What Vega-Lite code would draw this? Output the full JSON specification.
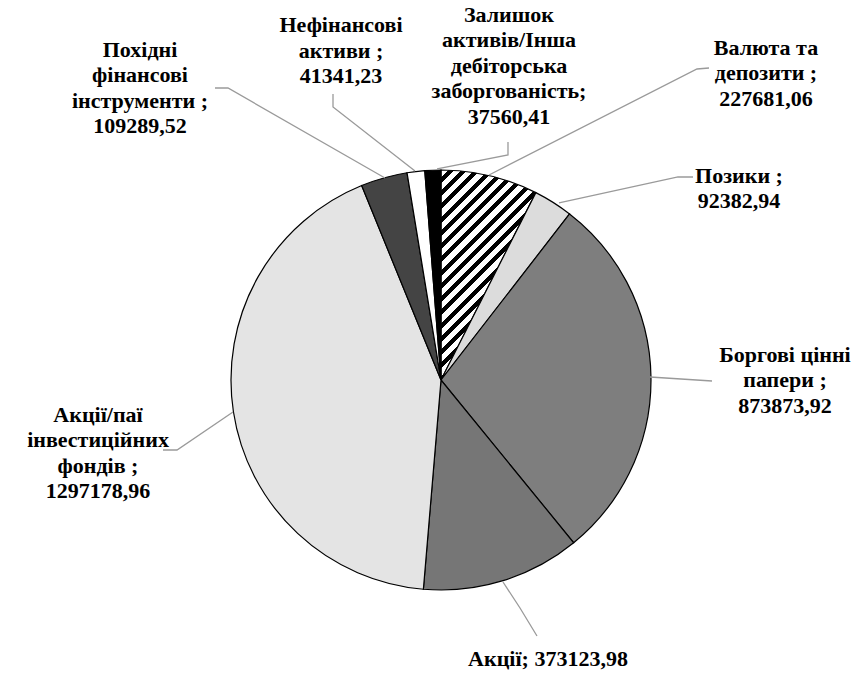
{
  "$schema": "https://vega.github.io/schema/vega-lite/v6.json",
  "width": 863,
  "height": 677,
  "padding": 0,
  "autosize": {"type": "none"},
  "background": "white",
  "config": {"view": {"stroke": null}},
  "datasets": {
    "slices": [
      {"cat": "Валюта та депозити", "value": 227681.06, "ord": 1},
      {"cat": "Позики", "value": 92382.94, "ord": 2},
      {"cat": "Боргові цінні папери", "value": 873873.92, "ord": 3},
      {"cat": "Акції", "value": 373123.98, "ord": 4},
      {"cat": "Акції/паї інвестиційних фондів", "value": 1297178.96, "ord": 5},
      {"cat": "Похідні фінансові інструменти", "value": 109289.52, "ord": 6},
      {"cat": "Нефінансові активи", "value": 41341.23, "ord": 7},
      {"cat": "Залишок активів/Інша дебіторська заборгованість", "value": 37560.41, "ord": 8}
    ],
    "labels": [
      {"cat": "Залишок активів/Інша дебіторська заборгованість", "label": "Залишок\nактивів/Інша\nдебіторська\nзаборгованість;\n37560,41", "lx": 0.3238, "ly": 1.7048},
      {"cat": "Нефінансові активи", "label": "Нефінансові\nактиви ;\n41341,23", "lx": -0.4762, "ly": 1.6571},
      {"cat": "Похідні фінансові інструменти", "label": "Похідні\nфінансові\nінструменти ;\n109289,52", "lx": -1.4333, "ly": 1.5381},
      {"cat": "Валюта та депозити", "label": "Валюта та\nдепозити ;\n227681,06", "lx": 1.5476, "ly": 1.5476},
      {"cat": "Позики", "label": "Позики ;\n92382,94", "lx": 1.419, "ly": 0.9381},
      {"cat": "Боргові цінні папери", "label": "Боргові цінні\nпапери ;\n873873,92", "lx": 1.6381, "ly": 0.0857},
      {"cat": "Акції", "label": "Акції; 373123,98", "lx": 0.5095, "ly": -1.3619},
      {"cat": "Акції/паї інвестиційних фондів", "label": "Акції/паї\nінвестиційних\nфондів ;\n1297178,96", "lx": -1.6333, "ly": -0.2}
    ],
    "leaders": [
      {"cat": "Похідні", "seq": 1, "lx": -1.0762, "ly": 1.3905},
      {"cat": "Похідні", "seq": 2, "lx": -1.0143, "ly": 1.3905},
      {"cat": "Похідні", "seq": 3, "lx": -0.2667, "ly": 0.9619},
      {"cat": "Нефінансові", "seq": 1, "lx": -0.5143, "ly": 1.3619},
      {"cat": "Нефінансові", "seq": 2, "lx": -0.5143, "ly": 1.3},
      {"cat": "Нефінансові", "seq": 3, "lx": -0.1238, "ly": 0.9952},
      {"cat": "Залишок", "seq": 1, "lx": 0.319, "ly": 1.1333},
      {"cat": "Залишок", "seq": 2, "lx": 0.319, "ly": 1.0714},
      {"cat": "Залишок", "seq": 3, "lx": -0.019, "ly": 1.0048},
      {"cat": "Валюта", "seq": 1, "lx": 1.2762, "ly": 1.4857},
      {"cat": "Валюта", "seq": 2, "lx": 1.219, "ly": 1.481},
      {"cat": "Валюта", "seq": 3, "lx": 0.2286, "ly": 0.9762},
      {"cat": "Позики", "seq": 1, "lx": 1.2, "ly": 0.9667},
      {"cat": "Позики", "seq": 2, "lx": 1.1286, "ly": 0.9667},
      {"cat": "Позики", "seq": 3, "lx": 0.5619, "ly": 0.8429},
      {"cat": "Боргові", "seq": 1, "lx": 1.2905, "ly": -0.0048},
      {"cat": "Боргові", "seq": 2, "lx": 1.1429, "ly": 0.0048},
      {"cat": "Боргові", "seq": 3, "lx": 0.9952, "ly": 0.0143},
      {"cat": "Акції", "seq": 1, "lx": 0.4571, "ly": -1.219},
      {"cat": "Акції", "seq": 2, "lx": 0.3762, "ly": -1.0857},
      {"cat": "Акції", "seq": 3, "lx": 0.2952, "ly": -0.9619},
      {"cat": "Паї", "seq": 1, "lx": -1.3238, "ly": -0.3333},
      {"cat": "Паї", "seq": 2, "lx": -1.2571, "ly": -0.3333},
      {"cat": "Паї", "seq": 3, "lx": -0.9905, "ly": -0.1524}
    ]
  },
  "layer": [
    {
      "data": {"name": "slices"},
      "mark": {"type": "arc", "outerRadius": 210, "stroke": "black", "strokeWidth": 1.2},
      "encoding": {
        "x": {"datum": 0, "type": "quantitative", "scale": {"domain": [-2.1, 2.0095], "nice": false, "zero": false}, "axis": null},
        "y": {"datum": 0, "type": "quantitative", "scale": {"domain": [-1.4143, 1.8095], "nice": false, "zero": false}, "axis": null},
        "theta": {"field": "value", "type": "quantitative", "stack": true},
        "order": {"field": "ord", "type": "quantitative"},
        "color": {
          "condition": {
            "test": "datum.cat === 'Валюта та депозити'",
            "value": {
              "gradient": "linear", "x1": 0, "y1": 0, "x2": 0.545, "y2": 1.206,
              "stops": [
                {"offset": 0, "color": "white"}, {"offset": 0.02391, "color": "white"}, {"offset": 0.02391, "color": "black"}, {"offset": 0.04348, "color": "black"},
                {"offset": 0.04348, "color": "white"}, {"offset": 0.06739, "color": "white"}, {"offset": 0.06739, "color": "black"}, {"offset": 0.08696, "color": "black"},
                {"offset": 0.08696, "color": "white"}, {"offset": 0.11087, "color": "white"}, {"offset": 0.11087, "color": "black"}, {"offset": 0.13043, "color": "black"},
                {"offset": 0.13043, "color": "white"}, {"offset": 0.15434, "color": "white"}, {"offset": 0.15434, "color": "black"}, {"offset": 0.17391, "color": "black"},
                {"offset": 0.17391, "color": "white"}, {"offset": 0.19782, "color": "white"}, {"offset": 0.19782, "color": "black"}, {"offset": 0.21739, "color": "black"},
                {"offset": 0.21739, "color": "white"}, {"offset": 0.2413, "color": "white"}, {"offset": 0.2413, "color": "black"}, {"offset": 0.26087, "color": "black"},
                {"offset": 0.26087, "color": "white"}, {"offset": 0.28478, "color": "white"}, {"offset": 0.28478, "color": "black"}, {"offset": 0.30435, "color": "black"},
                {"offset": 0.30435, "color": "white"}, {"offset": 0.32826, "color": "white"}, {"offset": 0.32826, "color": "black"}, {"offset": 0.34783, "color": "black"},
                {"offset": 0.34783, "color": "white"}, {"offset": 0.37174, "color": "white"}, {"offset": 0.37174, "color": "black"}, {"offset": 0.3913, "color": "black"},
                {"offset": 0.3913, "color": "white"}, {"offset": 0.41521, "color": "white"}, {"offset": 0.41521, "color": "black"}, {"offset": 0.43478, "color": "black"},
                {"offset": 0.43478, "color": "white"}, {"offset": 0.45869, "color": "white"}, {"offset": 0.45869, "color": "black"}, {"offset": 0.47826, "color": "black"},
                {"offset": 0.47826, "color": "white"}, {"offset": 0.50217, "color": "white"}, {"offset": 0.50217, "color": "black"}, {"offset": 0.52174, "color": "black"},
                {"offset": 0.52174, "color": "white"}, {"offset": 0.54565, "color": "white"}, {"offset": 0.54565, "color": "black"}, {"offset": 0.56522, "color": "black"},
                {"offset": 0.56522, "color": "white"}, {"offset": 0.58913, "color": "white"}, {"offset": 0.58913, "color": "black"}, {"offset": 0.6087, "color": "black"},
                {"offset": 0.6087, "color": "white"}, {"offset": 0.63261, "color": "white"}, {"offset": 0.63261, "color": "black"}, {"offset": 0.65217, "color": "black"},
                {"offset": 0.65217, "color": "white"}, {"offset": 0.67608, "color": "white"}, {"offset": 0.67608, "color": "black"}, {"offset": 0.69565, "color": "black"},
                {"offset": 0.69565, "color": "white"}, {"offset": 0.71956, "color": "white"}, {"offset": 0.71956, "color": "black"}, {"offset": 0.73913, "color": "black"},
                {"offset": 0.73913, "color": "white"}, {"offset": 0.76304, "color": "white"}, {"offset": 0.76304, "color": "black"}, {"offset": 0.78261, "color": "black"},
                {"offset": 0.78261, "color": "white"}, {"offset": 0.80652, "color": "white"}, {"offset": 0.80652, "color": "black"}, {"offset": 0.82609, "color": "black"},
                {"offset": 0.82609, "color": "white"}, {"offset": 0.85, "color": "white"}, {"offset": 0.85, "color": "black"}, {"offset": 0.86957, "color": "black"},
                {"offset": 0.86957, "color": "white"}, {"offset": 0.89348, "color": "white"}, {"offset": 0.89348, "color": "black"}, {"offset": 0.91304, "color": "black"},
                {"offset": 0.91304, "color": "white"}, {"offset": 0.93695, "color": "white"}, {"offset": 0.93695, "color": "black"}, {"offset": 0.95652, "color": "black"},
                {"offset": 0.95652, "color": "white"}, {"offset": 0.98043, "color": "white"}, {"offset": 0.98043, "color": "black"}, {"offset": 1, "color": "black"}
              ]
            }
          },
          "field": "cat",
          "type": "nominal",
          "scale": {
            "domain": ["Валюта та депозити", "Позики", "Боргові цінні папери", "Акції", "Акції/паї інвестиційних фондів", "Похідні фінансові інструменти", "Нефінансові активи", "Залишок активів/Інша дебіторська заборгованість"],
            "range": ["#8a8a8a", "#dcdcdc", "#7e7e7e", "#767676", "#e4e4e4", "#444444", "#ffffff", "#000000"]
          },
          "legend": null
        }
      }
    },
    {
      "data": {"name": "leaders"},
      "mark": {"type": "line", "color": "#9a9a9a", "strokeWidth": 1.3},
      "encoding": {
        "x": {"field": "lx", "type": "quantitative", "scale": {"domain": [-2.1, 2.0095], "nice": false, "zero": false}, "axis": null},
        "y": {"field": "ly", "type": "quantitative", "scale": {"domain": [-1.4143, 1.8095], "nice": false, "zero": false}, "axis": null},
        "detail": {"field": "cat", "type": "nominal"},
        "order": {"field": "seq", "type": "quantitative"}
      }
    },
    {
      "data": {"name": "labels"},
      "mark": {"type": "text", "font": "Liberation Serif", "fontWeight": "bold", "fontSize": 22, "lineHeight": 25.5, "lineBreak": "\n", "align": "center", "baseline": "alphabetic", "color": "black"},
      "encoding": {
        "x": {"field": "lx", "type": "quantitative", "scale": {"domain": [-2.1, 2.0095], "nice": false, "zero": false}, "axis": null},
        "y": {"field": "ly", "type": "quantitative", "scale": {"domain": [-1.4143, 1.8095], "nice": false, "zero": false}, "axis": null},
        "text": {"field": "label", "type": "nominal"}
      }
    }
  ]
}
